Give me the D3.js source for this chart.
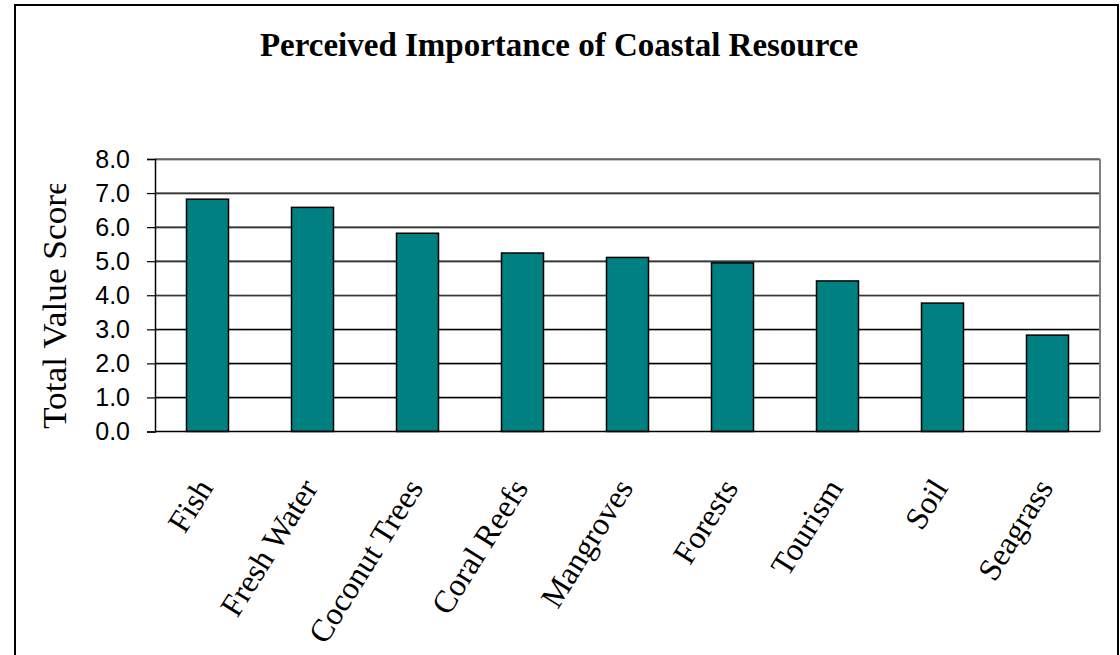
<!DOCTYPE html>
<html>
<head>
<meta charset="utf-8">
<script src="https://cdn.jsdelivr.net/npm/d3@7"></script>
<style>
  body { margin: 0; background: #fff; }
  svg { display: block; }
</style>
</head>
<body>
<svg id="chart" width="1120" height="655"></svg>
<script>
// data
var categories = ["Fish", "Fresh Water", "Coconut Trees", "Coral Reefs", "Mangroves", "Forests", "Tourism", "Soil", "Seagrass"];
var scores = [6.82, 6.58, 5.82, 5.24, 5.11, 4.95, 4.42, 3.77, 2.83];
var yTicks = [0, 1, 2, 3, 4, 5, 6, 7, 8];

var svg = d3.select("#chart");
var serif = "'Liberation Serif', 'Times New Roman', serif";
var sans = "'Liberation Sans', Arial, sans-serif";

// plot area
var plotL = 155, plotR = 1100, plotT = 159, plotB = 431.5;

// outer frame of the chart
svg.append("rect")
    .attr("x", 15).attr("y", 5)
    .attr("width", 1103).attr("height", 700)
    .attr("fill", "none")
    .attr("stroke", "#000")
    .attr("stroke-width", 2);

// title
svg.append("text")
    .attr("x", 559).attr("y", 56)
    .attr("text-anchor", "middle")
    .style("font-family", serif)
    .style("font-weight", "bold")
    .style("font-size", "33px")
    .text("Perceived Importance of Coastal Resource");

var x = d3.scaleBand()
    .domain(categories)
    .range([plotL, plotR])
    .paddingInner(0.6)
    .paddingOuter(0.3);

var y = d3.scaleLinear()
    .domain([0, 8])
    .range([plotB, plotT]);

// gridlines, black with a grey shadow under each
var grid = svg.append("g").attr("class", "grid");
grid.selectAll("line.shadow")
    .data(yTicks.filter(function (d) { return d > 0; }))
    .enter().append("line")
    .attr("class", "shadow")
    .attr("x1", plotL).attr("x2", plotR)
    .attr("y1", function (d) { return y(d) + 1; })
    .attr("y2", function (d) { return y(d) + 1; })
    .attr("stroke", "#909090")
    .attr("stroke-width", 1);
grid.selectAll("line.main")
    .data(yTicks.filter(function (d) { return d > 0; }))
    .enter().append("line")
    .attr("class", "main")
    .attr("x1", plotL).attr("x2", plotR)
    .attr("y1", function (d) { return y(d); })
    .attr("y2", function (d) { return y(d); })
    .attr("stroke", "#000")
    .attr("stroke-width", 1.2);

// right edge of the plot area
svg.append("line")
    .attr("x1", plotR).attr("x2", plotR)
    .attr("y1", plotT).attr("y2", plotB)
    .attr("stroke", "#808080")
    .attr("stroke-width", 2);

// bars
svg.append("g").selectAll("rect")
    .data(scores)
    .enter().append("rect")
    .attr("x", function (d, i) { return x(categories[i]); })
    .attr("y", function (d) { return y(d); })
    .attr("width", x.bandwidth())
    .attr("height", function (d) { return y(0) - y(d); })
    .attr("fill", "#008080")
    .attr("stroke", "#000")
    .attr("stroke-width", 1.5);

// y axis
var yAxis = svg.append("g")
    .attr("transform", "translate(" + plotL + ",0)")
    .call(d3.axisLeft(y).tickValues(yTicks).tickSize(8).tickPadding(17)
        .tickFormat(d3.format(".1f")));
yAxis.select(".domain").attr("stroke", "#000").attr("stroke-width", 1.5);
yAxis.selectAll(".tick line").attr("stroke", "#000").attr("stroke-width", 1.2);
yAxis.selectAll(".tick text")
    .style("font-family", sans)
    .style("font-size", "25px")
    .attr("fill", "#000");

// x axis baseline
svg.append("line")
    .attr("x1", plotL).attr("x2", plotR)
    .attr("y1", plotB).attr("y2", plotB)
    .attr("stroke", "#000")
    .attr("stroke-width", 1.5);

// category labels, slanted
svg.append("g").selectAll("text")
    .data(categories)
    .enter().append("text")
    .attr("text-anchor", "end")
    .attr("dy", "0.35em")
    .attr("transform", function (d) {
        return "translate(" + (x(d) + x.bandwidth() / 2 - 3) + ",482) rotate(-58)";
    })
    .style("font-family", serif)
    .style("font-size", "32px")
    .text(function (d) { return d; });

// y axis title (cut at the top as in the original)
svg.append("clipPath").attr("id", "ytclip")
    .append("rect").attr("x", 0).attr("y", 184).attr("width", 100).attr("height", 300);
svg.append("g")
    .attr("clip-path", "url(#ytclip)")
    .append("text")
    .attr("transform", "translate(66,429) rotate(-90) scale(1.07,1)")
    .attr("text-anchor", "start")
    .style("font-family", serif)
    .style("font-size", "33px")
    .text("Total Value Score");
</script>
</body>
</html>
